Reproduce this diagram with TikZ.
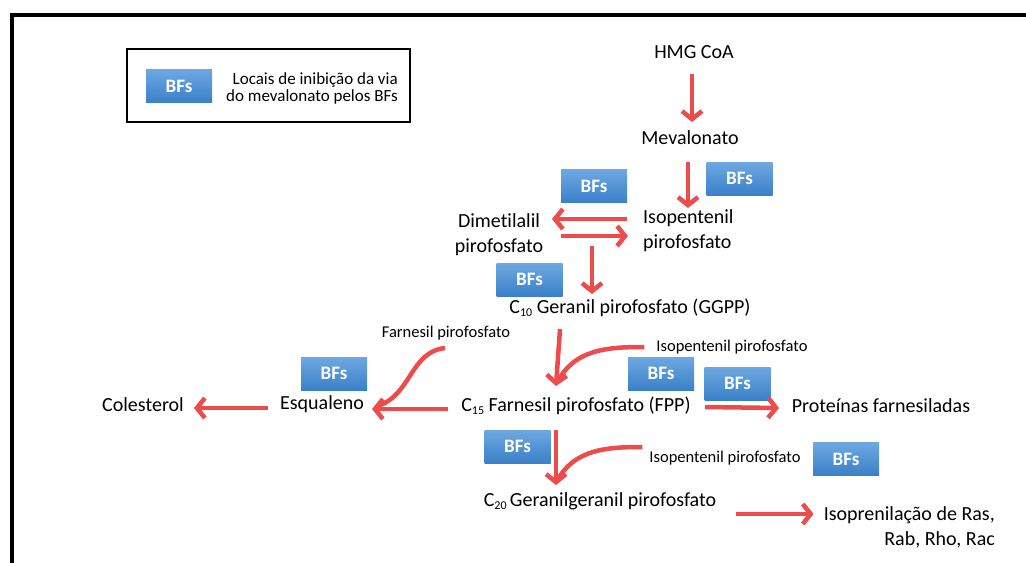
\documentclass[tikz,border=0pt]{standalone}
\usepackage{fontspec}
\setmainfont{Carlito}[Ligatures={NoCommon}]
\usetikzlibrary{arrows.meta}
\definecolor{arrred}{RGB}{236,76,76}
\definecolor{bftop}{RGB}{110,168,226}
\definecolor{bfbot}{RGB}{58,128,200}
\newcommand{\Csub}[1]{C\raisebox{-0.35ex}{\fontsize{12}{12}\selectfont #1}}
\begin{document}
\begin{tikzpicture}[x=1pt,y=-1pt,
  lbl/.style={inner sep=0pt, font=\fontsize{20}{25.5}\selectfont, text height=13pt, text depth=4pt},
  lblm/.style={inner sep=0pt, font=\fontsize{20}{25}\selectfont},
  small/.style={inner sep=0pt, font=\fontsize{16.5}{18}\selectfont, text height=11pt, text depth=3pt},
  bfbox/.style={minimum width=66pt, minimum height=33pt, inner sep=0pt, top color=bftop, bottom color=bfbot, text=white, font=\fontsize{19}{19}\selectfont\bfseries},
  arr/.style={draw=arrred, line width=4.5pt, -{Straight Barb[length=8pt,width=20pt]}},
  link/.style={draw=arrred, line width=4.5pt}
]
\useasboundingbox (0,0) rectangle (1026,563);
% outer frame
\draw[line width=4pt] (12,563) -- (12,14.5) -- (1026,14.5);
% legend
\draw[line width=2pt] (127,49) rectangle (410,122);
\node[bfbox] (bfleg) at (179,86) {BFs};
\node[inner sep=0pt, anchor=east, align=right, font=\fontsize{17}{17.5}\selectfont] (legtxt) at (398,88.5) {Locais de inibição da via\\do mevalonato pelos BFs};

% BFs boxes
\node[bfbox] (bf1) at (739.5,178.5) {BFs};
\node[bfbox] (bf2) at (594,186) {BFs};
\node[bfbox] (bf3) at (529.5,279.5) {BFs};
\node[bfbox] (bf4) at (334,373.5) {BFs};
\node[bfbox] (bf5) at (661,373.5) {BFs};
\node[bfbox] (bf6) at (737.5,383.5) {BFs};
\node[bfbox] (bf7) at (517.5,446.5) {BFs};
\node[bfbox] (bf8) at (846,459) {BFs};

% texts
\node[lbl] (hmg) at (694,54) {HMG CoA};
\node[lbl] (mev) at (690,140) {Mevalonato};
\node[lblm, anchor=west, align=left] (ipp) at (643,230.5) {Isopentenil\\pirofosfato};
\node[lblm, align=center] (dma) at (499,235) {Dimetilalil\\pirofosfato};
\node[lbl] (ggpp) at (630,309) {\Csub{10} Geranil pirofosfato (GGPP)};
\node[small] (far) at (446,333) {Farnesil pirofosfato};
\node[small] (ipp2) at (732,347) {Isopentenil pirofosfato};
\node[lbl] (col) at (143,407) {Colesterol};
\node[lbl] (esq) at (322,405) {Esqualeno};
\node[lbl] (fpp) at (576,407) {\Csub{15} Farnesil pirofosfato (FPP)};
\node[lbl] (prot) at (881,408) {Proteínas farnesiladas};
\node[small] (ipp3) at (725,458) {Isopentenil pirofosfato};
\node[lbl] (c20) at (600,502) {\Csub{20}\,Geranilgeranil pirofosfato};
\node[lblm, anchor=east, align=right] (isop) at (995,527) {Isoprenilação de Ras,\\Rab, Rho, Rac};

% arrows
\draw[arr] ([shift={(-2,20)}]hmg.center) -- ([shift={(2,-18)}]mev.center);
\draw[arr] ([shift={(-2,22)}]mev.center) -- ([shift={(45,-22.5)}]ipp.west);
\draw[arr] ([shift={(-16,-11.5)}]ipp.west) -- ([shift={(53,-16)}]dma.center);
\draw[arr] ([shift={(62,1)}]dma.center) -- ([shift={(-15,5.5)}]ipp.west);
\draw[arr] ([shift={(93,11)}]dma.center) -- ([shift={(-38,-15)}]ggpp.center);
\draw[arr] ([shift={(-70,20)}]ggpp.center) -- ([shift={(-20,-21)}]fpp.center);
\draw[link] ([shift={(-12,0)}]ipp2.west) to[out=180,in=62] ([shift={(-18,-26)}]fpp.center);
\draw[arr] ([shift={(-128,2)}]fpp.center) -- ([shift={(50,4)}]esq.center);
\draw[link] ([shift={(-1,15)}]far.center) .. controls +(-35,4) and +(34,-12) .. ([shift={(56,1)}]esq.center);
\draw[arr] ([shift={(-54,3)}]esq.center) -- ([shift={(51,1)}]col.center);
\draw[arr] ([shift={(129,0)}]fpp.center) -- ([shift={(-102,0)}]prot.center);
\draw[arr] ([shift={(-20,23)}]fpp.center) -- ([shift={(-44,-17)}]c20.center);
\draw[link] ([shift={(-7,-11)}]ipp3.west) to[out=180,in=62] ([shift={(-43,-21)}]c20.center);
\draw[arr] ([shift={(136,12)}]c20.center) -- ([shift={(-10,-13)}]isop.west);
\end{tikzpicture}
\end{document}
